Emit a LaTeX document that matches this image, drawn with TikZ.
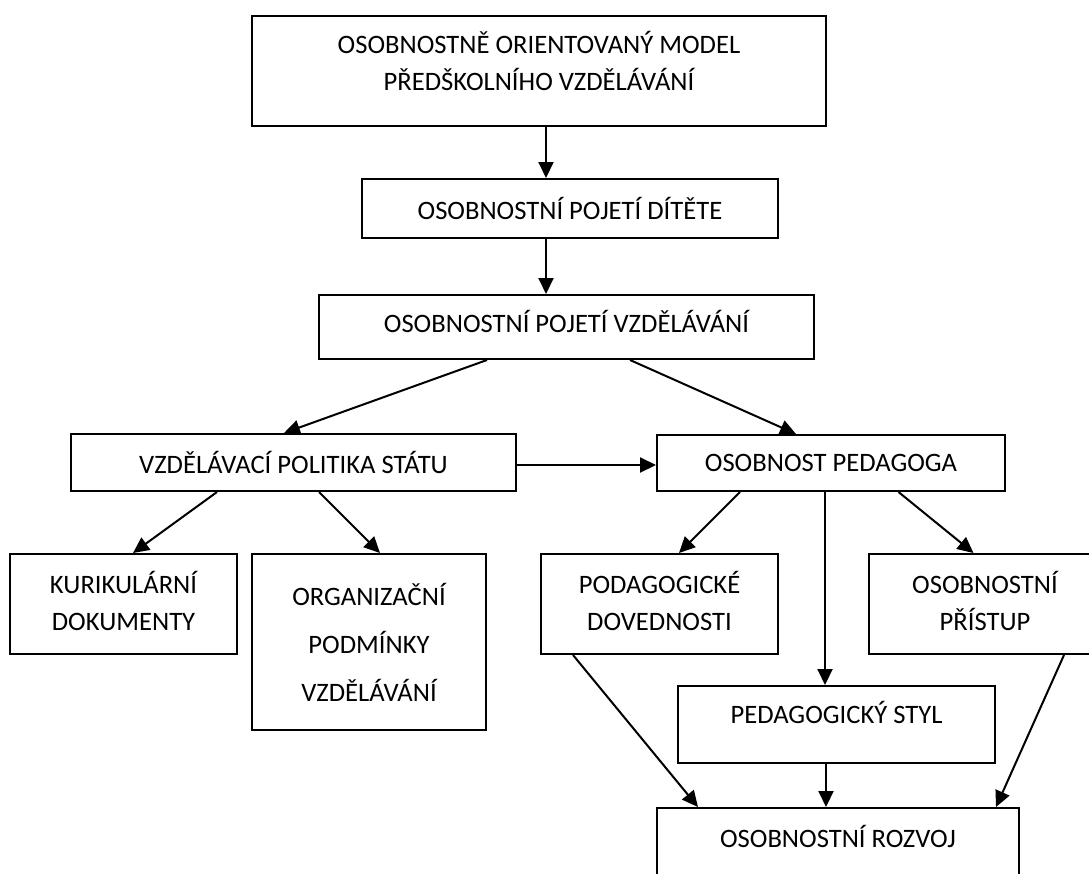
\documentclass[tikz,border=0pt]{standalone}
\usepackage{fontspec}
\setmainfont{Carlito}
\usetikzlibrary{arrows.meta}

\begin{document}
\begin{tikzpicture}[x=1pt, y=-1pt,
    chartbox/.style={draw, line width=2pt, align=center, inner sep=0pt,
      font=\fontsize{26.6}{37}\selectfont},
    arrow/.style={-{Triangle[length=16pt, width=15pt]}, line width=2pt}
  ]
    \useasboundingbox (0,0) rectangle (1089,873);
    \clip (0,0) rectangle (1089,873);

    \node[chartbox, minimum width=574pt, minimum height=110pt, text depth=21pt] (model) at (539,71)
      {OSOBNOSTNĚ ORIENTOVANÝ MODEL\\PŘEDŠKOLNÍHO VZDĚLÁVÁNÍ};
    \node[chartbox, minimum width=416pt, minimum height=59pt] (childview) at (570,208.5)
      {OSOBNOSTNÍ POJETÍ DÍTĚTE};
    \node[chartbox, minimum width=495pt, minimum height=64pt, text depth=12pt] (eduview) at (566.5,327)
      {OSOBNOSTNÍ POJETÍ VZDĚLÁVÁNÍ};
    \node[chartbox, minimum width=445pt, minimum height=57pt] (policy) at (293.5,462.5)
      {VZDĚLÁVACÍ POLITIKA STÁTU};
    \node[chartbox, minimum width=348pt, minimum height=56pt] (teacher) at (831,463)
      {OSOBNOST PEDAGOGA};
    \node[chartbox, minimum width=227pt, minimum height=100pt, text depth=6pt] (curric) at (123.5,604)
      {KURIKULÁRNÍ\\DOKUMENTY};
    \node[chartbox, minimum width=234pt, minimum height=176pt, text depth=-8pt,
      font=\fontsize{26.6}{48}\selectfont] (conditions) at (369,642)
      {ORGANIZAČNÍ\\PODMÍNKY\\VZDĚLÁVÁNÍ};
    \node[chartbox, minimum width=237pt, minimum height=100pt, text depth=6pt] (skills) at (659.5,604)
      {PODAGOGICKÉ\\DOVEDNOSTI};
    \node[chartbox, minimum width=232pt, minimum height=100pt, text depth=6pt] (approach) at (985,604)
      {OSOBNOSTNÍ\\PŘÍSTUP};
    \node[chartbox, minimum width=317pt, minimum height=77pt, text depth=25pt] (style) at (836.5,724.5)
      {PEDAGOGICKÝ STYL};
    \node[chartbox, minimum width=362pt, minimum height=77pt, text depth=21pt] (growth) at (838,846.5)
      {OSOBNOSTNÍ ROZVOJ};

    \draw[arrow] ([xshift=7pt]model.south) -- ([xshift=-24pt]childview.north);
    \draw[arrow] ([xshift=-24pt]childview.south) -- ([xshift=-20.5pt]eduview.north);
    \draw[arrow] ([xshift=-79.5pt]eduview.south) -- ([xshift=-9.5pt]policy.north);
    \draw[arrow] ([xshift=63.5pt]eduview.south) -- ([xshift=-35pt]teacher.north);
    \draw[arrow] ([yshift=-2.5pt]policy.east) -- ([yshift=-2.5pt]policy.east -| teacher.west);
    \draw[arrow] ([xshift=-76.5pt]policy.south) -- ([xshift=9.5pt]curric.north);
    \draw[arrow] ([xshift=25.5pt]policy.south) -- ([xshift=11pt]conditions.north);
    \draw[arrow] ([xshift=-91pt]teacher.south) -- ([xshift=19.5pt]skills.north);
    \draw[arrow] ([xshift=-6pt]teacher.south) -- ([xshift=-11.5pt]style.north);
    \draw[arrow] ([xshift=67.5pt]teacher.south) -- ([xshift=-11.5pt]approach.north);
    \draw[arrow] ([xshift=-86.5pt]skills.south) -- ([xshift=-140pt]growth.north);
    \draw[arrow] ([xshift=-10.5pt]style.south) -- ([xshift=-12pt]growth.north);
    \draw[arrow] ([xshift=79pt]approach.south) -- ([xshift=158pt]growth.north);
  \end{tikzpicture}
\end{document}
